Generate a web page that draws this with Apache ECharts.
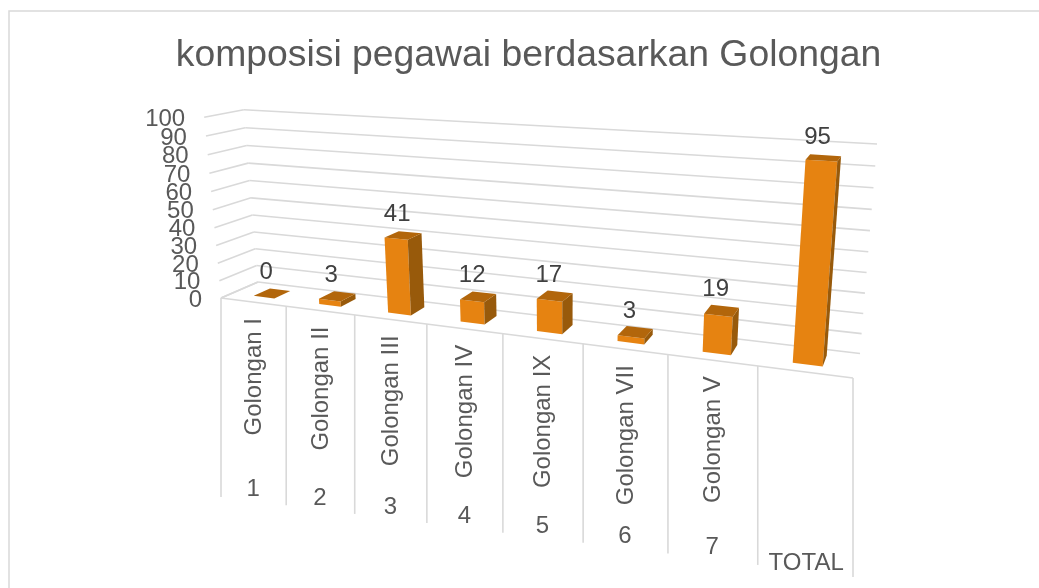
<!DOCTYPE html>
<html><head><meta charset="utf-8">
<style>html,body{margin:0;padding:0;background:#fff}#c{width:1039px;height:588px}</style>
<script src="https://cdn.jsdelivr.net/npm/echarts@6/dist/echarts.min.js"></script>
</head><body><div id="c"></div>
<script>
const titleText = 'komposisi pegawai berdasarkan Golongan';
const categories = ['Golongan I','Golongan II','Golongan III','Golongan IV','Golongan IX','Golongan VII','Golongan V',''];
const groupLabels = ['1','2','3','4','5','6','7','TOTAL'];
const values = [0,3,41,12,17,3,19,95];
const valueTicks = [0,10,20,30,40,50,60,70,80,90,100];

// Camera: where the corners of the 3D box land on screen
const cam = {
  floor: [[221,298],[853,378],[860,353.5],[258,282]],     // front-left, front-right, back-right, back-left
  top:   [[204,118,0,0],[244,109,0,1],[877,144,1,1]]      // screen x, y, then u, depth
};
const barSpan = 0.32, depthNear = 0.29, depthFar = 0.74;
const INK = '#595959', DARK = '#404040', LINE = '#D9D9D9', FONT = '24px "Liberation Sans", Arial, sans-serif';
const FRONT = '#E68311', SIDE = '#985A0B', TOP = '#B2660B';

const H = (function () {
  const [p0,p1,p2,p3] = cam.floor;
  const dx1=p1[0]-p2[0],dx2=p3[0]-p2[0],sx=p0[0]-p1[0]+p2[0]-p3[0];
  const dy1=p1[1]-p2[1],dy2=p3[1]-p2[1],sy=p0[1]-p1[1]+p2[1]-p3[1];
  const den=dx1*dy2-dx2*dy1;
  const g=(sx*dy2-dx2*sy)/den, h=(dx1*sy-sx*dy1)/den;
  const a=p1[0]-p0[0]+g*p1[0], b=p3[0]-p0[0]+h*p3[0], c=p0[0];
  const d=p1[1]-p0[1]+g*p1[1], e=p3[1]-p0[1]+h*p3[1], f=p0[1];
  const X=[],Y=[],ex=[],ey=[];
  cam.top.forEach(t=>{
    const D=g*t[2]+h*t[3]+1;
    X.push(t[0]);Y.push(t[1]);
    ex.push(a*t[2]+b*t[3]+c-t[0]*D);
    ey.push(d*t[2]+e*t[3]+f-t[1]*D);
  });
  const mean=v=>v.reduce((s,x)=>s+x,0)/v.length;
  const mX=mean(X),mY=mean(Y),mex=mean(ex),mey=mean(ey);
  let n=0,m=0;
  X.forEach((_,i)=>{n+=(X[i]-mX)*(ex[i]-mex)+(Y[i]-mY)*(ey[i]-mey);m+=(X[i]-mX)**2+(Y[i]-mY)**2;});
  const r=n/m, p=r*mX-mex, q=r*mY-mey;
  return {a,b,c,d,e,f,g,h,p,q,r};
})();
function project(u,dep,ht){
  const w=H.g*u+H.h*dep+H.r*ht+1;
  return [(H.a*u+H.b*dep+H.p*ht+H.c)/w,(H.d*u+H.e*dep+H.q*ht+H.f)/w];
}
const lineEl=(a,b)=>({type:'line',shape:{x1:a[0],y1:a[1],x2:b[0],y2:b[1]},style:{stroke:LINE,lineWidth:1.6,fill:null}});
const polyEl=(pts,fill)=>({type:'polygon',shape:{points:pts},style:{fill:fill,stroke:null}});
const textEl=(text,x,y,opt)=>Object.assign({type:'text',x:x,y:y,style:{text:text,x:0,y:0,fill:INK,font:FONT,align:'center',verticalAlign:'middle'}},opt||{});

function renderGrid(params,api){
  const cs=params.coordSys, v=api.value(0);
  const ht=(cs.y+cs.height-api.coord([0,v])[1])/cs.height;
  const fl=project(0,0,ht), bl=project(0,1,ht), br=project(1,1,ht);
  const lab=textEl(String(v),fl[0]-19,fl[1]+2);
  lab.style.align='right';
  return {type:'group',children:[lineEl(fl,bl),lineEl(bl,br),lab]};
}
function renderTick(params,api){
  const cs=params.coordSys, i=api.value(0), bw=api.size([1,0])[0];
  const c=api.coord([i,0]);
  const u0=(c[0]-bw/2-cs.x)/cs.width, u1=(c[0]+bw/2-cs.x)/cs.width, um=(u0+u1)/2;
  const a=project(u0,0,0), m=project(um,0,0);
  const kids=[lineEl(a,[a[0],a[1]+199])];
  if(i===categories.length-1){
    const b=project(u1,0,0);
    kids.push(lineEl(b,[b[0],b[1]+199]));
    kids.push(lineEl(project(0,0,0),project(0,1,0)));
    kids.push(lineEl(project(0,0,0),b));
  }
  if(categories[i]){
    const t=textEl(categories[i],m[0]+1,m[1]+16,{rotation:Math.PI/2});
    t.style.align='right';
    kids.push(t);
  }
  kids.push(textEl(groupLabels[i],m[0]+(categories[i]?0:1.5),m[1]+(categories[i]?187.5:191)));
  return {type:'group',children:kids};
}
function renderBar(params,api){
  const cs=params.coordSys, i=api.value(0), v=api.value(1), bw=api.size([1,0])[0];
  const c=api.coord([i,v]), base=api.coord([i,0]);
  const u0=(c[0]-bw*barSpan/2-cs.x)/cs.width, u1=(c[0]+bw*barSpan/2-cs.x)/cs.width;
  const ht=(base[1]-c[1])/cs.height, d0=depthNear, d1=depthFar;
  const P=(u,d,h)=>project(u,d,h);
  const kids=[];
  kids.push(polyEl([P(u0,d0,0),P(u1,d0,0),P(u1,d0,ht),P(u0,d0,ht)],FRONT));
  kids.push(polyEl([P(u1,d0,0),P(u1,d1,0),P(u1,d1,ht),P(u1,d0,ht)],SIDE));
  kids.push(polyEl([P(u0,d0,ht),P(u1,d0,ht),P(u1,d1,ht),P(u0,d1,ht)],TOP));
  const m=P((u0+u1)/2,(d0+d1)/2,ht);
  const lab=textEl(String(v),m[0]-6,m[1]-21);
  lab.style.fill=DARK;
  kids.push(lab);
  return {type:'group',children:kids};
}

const chart=echarts.init(document.getElementById('c'),null,{renderer:'canvas'});
chart.setOption({
  animation:false,
  backgroundColor:'#fff',
  title:{text:titleText,left:523.5,top:32,textAlign:'center',
    textStyle:{color:INK,fontSize:37.33,fontWeight:'normal',fontFamily:'"Liberation Sans", Arial, sans-serif'}},
  graphic:[{type:'polyline',silent:true,shape:{points:[[9,588],[9,11],[1039,11]]},style:{stroke:LINE,lineWidth:1.5,fill:null}}],
  grid:{left:100,right:100,top:100,bottom:100},
  xAxis:{type:'category',data:categories,show:false},
  yAxis:{type:'value',min:0,max:100,interval:10,show:false},
  series:[
    {type:'custom',silent:true,renderItem:renderGrid,data:valueTicks.map(v=>[v]),encode:{y:0}},
    {type:'custom',silent:true,renderItem:renderTick,data:categories.map((_,i)=>[i]),encode:{x:0}},
    {type:'custom',silent:true,renderItem:renderBar,data:values.map((v,i)=>[i,v]),encode:{x:0,y:1}}
  ]
});
</script></body></html>
